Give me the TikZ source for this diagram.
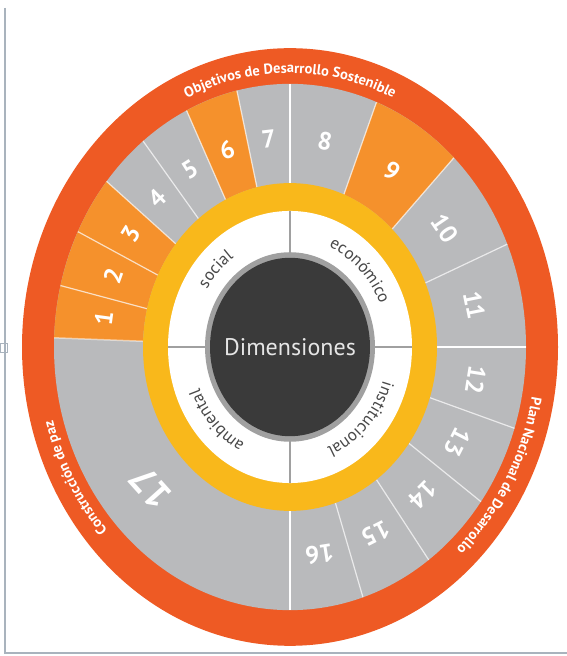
\documentclass[tikz,border=0pt]{standalone}
\usepackage{fontspec}
\setmainfont{PT Sans}
\usetikzlibrary{decorations.text}
\definecolor{band}{HTML}{EE5A24}
\definecolor{og}{HTML}{F5912C}
\definecolor{gr}{HTML}{B9BABC}
\definecolor{yel}{HTML}{F9B81B}
\definecolor{dk}{HTML}{3A3A3A}
\definecolor{bd}{HTML}{A0A0A0}
\definecolor{lbl}{HTML}{484848}
\definecolor{framec}{HTML}{A9B3BD}
\begin{document}
\begin{tikzpicture}[x=1pt,y=1pt,
  num/.style={text=white, font=\fontsize{25}{25}\selectfont\bfseries, inner sep=0pt},
  septhin/.style={white, opacity=.7, line width=1.2pt},
  septhick/.style={white, line width=2.8pt},
  divider/.style={bd, line width=2.6pt},
  bandtext/.style={decorate, decoration={text along path, text align=center,
     text={|\fontsize{14.5}{15}\selectfont\bfseries\color{white}|#1}}},
  innertext/.style={decorate, decoration={text along path, text align=center,
     text={|\fontsize{17}{17}\selectfont\color{lbl}|#1}}}]
\useasboundingbox (0,0) rectangle (567,656);
\fill[white] (0,0) rectangle (567,656);
\draw[framec, line width=2pt] (5,648) -- (5,3) -- (567,3);
\draw[framec, line width=0.8pt] (0,304) rectangle (7,313);
\coordinate (C) at (290,309);
\begin{scope}[shift={(C)}, yscale=1.115]
  \fill[band] (0,0) circle[radius=268];
  \fill[gr] (0,0) circle[radius=236];
  \foreach \a/\b in {166.5/178, 154/166.5, 141/154, 103/116, 46/68.5} {
    \fill[og] (\a:147) arc[start angle=\a, end angle=\b, radius=147]
      -- (\b:236) arc[start angle=\b, end angle=\a, radius=236] -- cycle;
  }
  \foreach \a in {103,116,128.5,141,154,166.5,68.5,46,23,-18,-36,-54,-72}
    \draw[septhin] (\a:147) -- (\a:236);
  \foreach \a in {90,0,-90}
    \draw[septhick] (\a:147) -- (\a:236);
  \draw[white, opacity=.5, line width=1.5pt] (178:147) -- (178:236);
  \fill[yel] (0,0) circle[radius=147];
  \fill[white] (0,0) circle[radius=122];
  \fill[bd] (0,0) circle[radius=85];
  \fill[dk] (0,0) circle[radius=80];
  \foreach \a in {0,90,180,270}
    \draw[divider] (\a:84) -- (\a:122);
  \foreach \m/\n in {172.25/1, 160.25/2, 147.5/3, 134.75/4, 122.25/5, 109.5/6, 96.5/7,
      79.25/8, 57.25/9, 34.5/10, 11.5/11, -9/12, -27/13, -45/14, -63/15, -81/16}
    \node[num, rotate=\m-90] (n\n) at (\m:188) {\n};
  \node[num, font=\fontsize{38}{38}\selectfont\bfseries, rotate=132] (n17) at (222:188) {17};
  \node[text=white!90!black, font=\fontsize{24}{24}\selectfont, inner sep=0pt] (dim) at (0,0) {Dimensiones};
\end{scope}
\begin{scope}[shift={(C)}]
  \path[bandtext={Objetivos de Desarrollo Sostenible}]
    (135:246 and 274) arc[start angle=135, end angle=45, x radius=246, y radius=274];
  \path[bandtext={Plan Nacional de Desarrollo}]
    (15:246 and 274) arc[start angle=15, end angle=-75, x radius=246, y radius=274];
  \path[bandtext={Construcción de paz}]
    (255:246 and 274) arc[start angle=255, end angle=165, x radius=246, y radius=274];
  \path[innertext={social}]
    (180:98 and 109) arc[start angle=180, end angle=90, x radius=98, y radius=109];
  \path[innertext={económico}]
    (91:98 and 109) arc[start angle=91, end angle=1, x radius=98, y radius=109];
  \path[innertext={institucional}]
    (1:98 and 109) arc[start angle=1, end angle=-89, x radius=98, y radius=109];
  \path[innertext={ambiental}]
    (268.5:98 and 109) arc[start angle=268.5, end angle=178.5, x radius=98, y radius=109];
\end{scope}
\end{tikzpicture}
\end{document}
